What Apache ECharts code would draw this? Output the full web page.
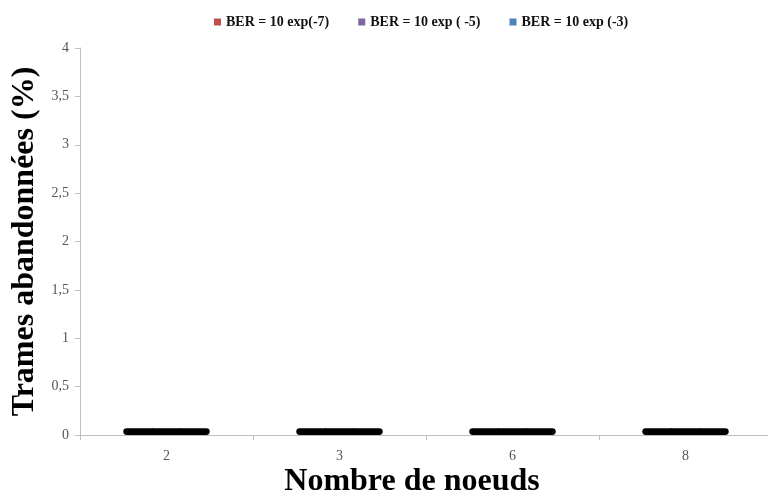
<!DOCTYPE html>
<html>
<head>
<meta charset="utf-8">
<script src="https://cdn.jsdelivr.net/npm/echarts@6/dist/echarts.min.js"></script>
<style>html,body{margin:0;padding:0;background:#fff}#c{width:768px;height:497px}</style>
</head>
<body>
<div id="c"></div>
<script>
var categories = ['2', '3', '6', '8'];
var seriesNames = ['BER = 10 exp(-7)', 'BER = 10 exp ( -5)', 'BER = 10 exp (-3)'];
var legendColors = ['#c0504d', '#8064a2', '#4f81bd'];
var ber7 = [0.07, 0.07, 0.07, 0.07];
var ber5 = [0.07, 0.07, 0.07, 0.07];
var ber3 = [0.07, 0.07, 0.07, 0.07];
var yTicks = [0, 0.5, 1, 1.5, 2, 2.5, 3, 3.5, 4];

var chart = echarts.init(document.getElementById('c'));
var serif = 'Liberation Serif';
var values = [ber7, ber5, ber3];
var series = values.map(function (v, i) {
  var r = i === 0 ? [4, 0, 0, 4] : (i === 2 ? [0, 4, 4, 0] : 0);
  return {
    name: seriesNames[i],
    type: 'bar',
    data: v,
    barGap: '-4%',
    barCategoryGap: '50%',
    itemStyle: { color: '#000', borderRadius: r }
  };
});
chart.setOption({
  animation: false,
  title: {
    text: 'Nombre de noeuds',
    left: 407,
    top: 461,
    textAlign: 'center',
    textStyle: { fontFamily: serif, fontWeight: 'bold', fontSize: 32, color: '#000' }
  },
  legend: {
    top: 10,
    left: 209,
    itemWidth: 7,
    itemHeight: 7,
    itemGap: 29,
    icon: 'rect',
    textStyle: { fontFamily: serif, fontWeight: 'bold', fontSize: 14, color: '#111' },
    data: seriesNames.map(function (n, i) { return { name: n, itemStyle: { color: legendColors[i] } }; })
  },
  grid: { left: 80, width: 692, top: 48, bottom: 62, containLabel: false, outerBoundsMode: 'none' },
  xAxis: {
    type: 'category',
    data: categories,
    axisLine: { lineStyle: { color: '#bfbfbf' } },
    axisTick: { show: true, length: 5, lineStyle: { color: '#bfbfbf' } },
    axisLabel: { fontFamily: serif, fontSize: 14, color: '#555', margin: 14 }
  },
  yAxis: {
    type: 'value',
    min: 0,
    max: 4,
    interval: 0.5,
    name: 'Trames abandonnées (%)',
    nameLocation: 'middle',
    nameGap: 36,
    nameTextStyle: { fontFamily: serif, fontWeight: 'bold', fontSize: 32, color: '#000' },
    splitLine: { show: false },
    axisLine: { show: true, lineStyle: { color: '#bfbfbf' } },
    axisTick: { show: true, length: 5, lineStyle: { color: '#bfbfbf' } },
    axisLabel: {
      fontFamily: serif, fontSize: 14, color: '#555', margin: 11,
      formatter: function (v) { return String(v).replace('.', ','); }
    }
  },
  series: series
});
</script>
</body>
</html>
